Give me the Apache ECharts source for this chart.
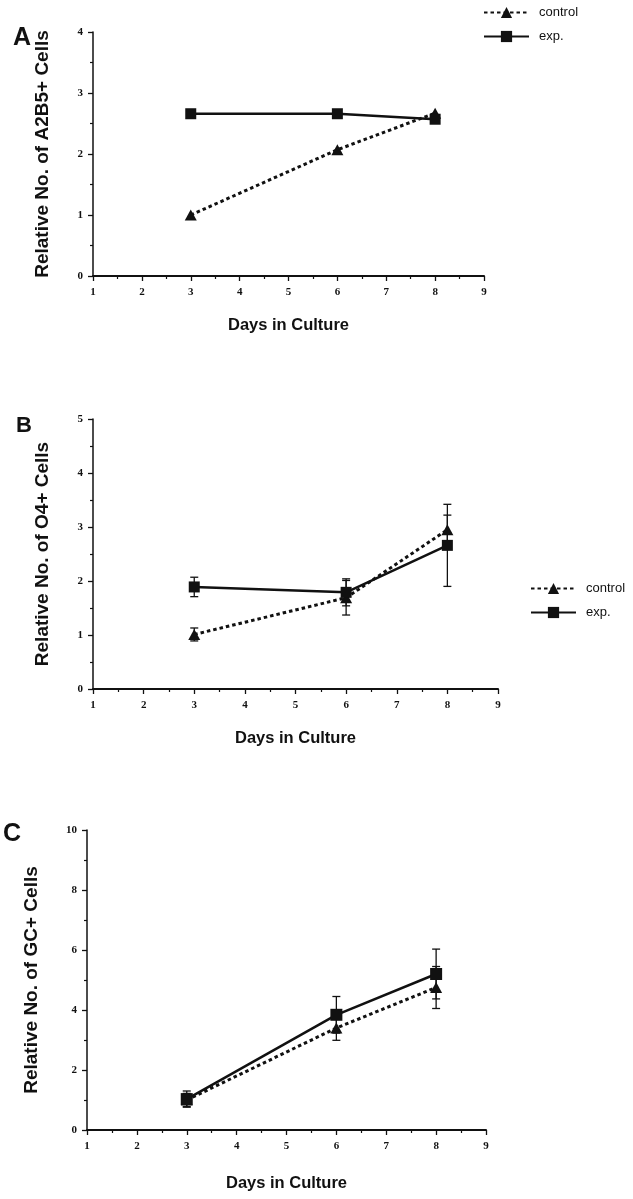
<!DOCTYPE html>
<html>
<head>
<meta charset="utf-8">
<script src="https://cdn.jsdelivr.net/npm/echarts@6/dist/echarts.min.js"></script>
<style>
html,body{margin:0;padding:0;background:#fff;}
#chart{width:633px;height:1199px;}
</style>
</head>
<body>
<div id="chart"></div>
<script>
// ---- data ----
const days = [3, 6, 8];
const seriesNames = ['control', 'exp.'];
const xAxisTitle = 'Days in Culture';
const yTitles = ['Relative No. of A2B5+ Cells', 'Relative No. of O4+ Cells', 'Relative No. of GC+ Cells'];
const panelLetters = ['A', 'B', 'C'];

const a2b5Control = [1.0, 2.07, 2.67];
const a2b5Exp = [2.66, 2.66, 2.57];

const o4Control = [1.01, 1.69, 2.95];
const o4ControlErr = [0.12, 0.32, 0.27];
const o4Exp = [1.89, 1.79, 2.66];
const o4ExpErr = [0.18, 0.25, 0.76];

const gcControl = [1.0, 3.4, 4.75];
const gcControlErr = [0.22, 0.41, 0.7];
const gcExp = [1.03, 3.84, 5.2];
const gcExpErr = [0.27, 0.61, 0.83];

const yMax = [4, 5, 10];
const yInterval = [1, 1, 2];

// ---- helpers ----
const INK = '#111';
const pts = (ys) => days.map((d, i) => [d, ys[i]]);
const errPts = (ys, es) => days.map((d, i) => [d, ys[i], es[i]]);

function renderErr(params, api) {
  const x = api.value(0), y = api.value(1), e = api.value(2);
  const top = api.coord([x, y + e]);
  const bot = api.coord([x, y - e]);
  const w = 4;
  const st = { stroke: INK, lineWidth: 1.3 };
  return {
    type: 'group',
    children: [
      { type: 'line', shape: { x1: top[0], y1: top[1], x2: bot[0], y2: bot[1] }, style: st },
      { type: 'line', shape: { x1: top[0] - w, y1: top[1], x2: top[0] + w, y2: top[1] }, style: st },
      { type: 'line', shape: { x1: bot[0] - w, y1: bot[1], x2: bot[0] + w, y2: bot[1] }, style: st }
    ]
  };
}

const grids = [
  { left: 93, top: 32, width: 391, height: 244 },
  { left: 93, top: 419, width: 405, height: 270 },
  { left: 87, top: 830, width: 399, height: 300 }
];
const xNameGaps = [41, 41, 45];
const yNameGaps = [41, 41, 46];

const xAxes = grids.map((g, i) => ({
  gridIndex: i, type: 'value', min: 1, max: 9, interval: 1,
  axisLine: { show: true, onZero: false, lineStyle: { color: INK, width: 2 } },
  axisTick: { show: true, inside: false, length: 5, lineStyle: { color: INK, width: 1.3 } },
  minorTick: { show: true, splitNumber: 2, length: 3, lineStyle: { color: INK, width: 1.2 } },
  splitLine: { show: false },
  axisLabel: { color: INK, fontFamily: 'Liberation Serif', fontWeight: 'bold', fontSize: 11, margin: 11 },
  name: xAxisTitle, nameLocation: 'middle', nameGap: xNameGaps[i],
  nameTextStyle: { color: INK, fontFamily: 'Liberation Sans', fontWeight: 'bold', fontSize: 16.5 }
}));

const yAxes = grids.map((g, i) => ({
  gridIndex: i, type: 'value', min: 0, max: yMax[i], interval: yInterval[i],
  axisLine: { show: true, onZero: false, lineStyle: { color: INK, width: 1.5 } },
  axisTick: { show: true, inside: false, length: 5, lineStyle: { color: INK, width: 1.3 } },
  minorTick: { show: true, splitNumber: 2, length: 3, lineStyle: { color: INK, width: 1.2 } },
  splitLine: { show: false },
  axisLabel: { color: INK, fontFamily: 'Liberation Serif', fontWeight: 'bold', fontSize: 11, margin: 10 },
  name: yTitles[i], nameLocation: 'middle', nameRotate: 90, nameGap: yNameGaps[i],
  nameTextStyle: { color: INK, fontFamily: 'Liberation Sans', fontWeight: 'bold', fontSize: 19 }
}));

function controlSeries(i, ys) {
  return {
    name: seriesNames[0], type: 'line', xAxisIndex: i, yAxisIndex: i,
    data: pts(ys), symbol: 'triangle', symbolSize: [12, 11],
    lineStyle: { color: INK, width: 3, type: [3.5, 3] },
    itemStyle: { color: INK }, z: 3
  };
}
function expSeries(i, ys) {
  return {
    name: seriesNames[1], type: 'line', xAxisIndex: i, yAxisIndex: i,
    data: pts(ys), symbol: 'rect', symbolSize: i === 2 ? 12 : 11,
    lineStyle: { color: INK, width: 2.5, type: 'solid' },
    itemStyle: { color: INK }, z: 4
  };
}
function errSeries(i, ys, es) {
  return {
    type: 'custom', xAxisIndex: i, yAxisIndex: i, renderItem: renderErr,
    data: errPts(ys, es), encode: { x: 0, y: 1 }, z: 2, silent: true
  };
}

const legendText = { color: INK, fontFamily: 'Liberation Sans', fontSize: 13, padding: [0, 0, 0, 5] };

const option = {
  backgroundColor: '#fff',
  animation: false,
  grid: grids,
  xAxis: xAxes,
  yAxis: yAxes,
  legend: [
    { data: seriesNames, orient: 'vertical', left: 478, top: 1, itemWidth: 45, itemHeight: 14, itemGap: 11,
      textStyle: legendText, selectedMode: false },
    { data: seriesNames, orient: 'vertical', left: 525, top: 577, itemWidth: 45, itemHeight: 14, itemGap: 11,
      textStyle: legendText, selectedMode: false }
  ],
  graphic: [
    { type: 'text', left: 13, top: 26, style: { text: panelLetters[0], fill: INK, font: 'bold 25px "Liberation Sans"' } },
    { type: 'text', left: 16, top: 415, style: { text: panelLetters[1], fill: INK, font: 'bold 22px "Liberation Sans"' } },
    { type: 'text', left: 3, top: 822, style: { text: panelLetters[2], fill: INK, font: 'bold 25px "Liberation Sans"' } }
  ],
  series: [
    controlSeries(0, a2b5Control),
    expSeries(0, a2b5Exp),
    errSeries(1, o4Control, o4ControlErr),
    errSeries(1, o4Exp, o4ExpErr),
    controlSeries(1, o4Control),
    expSeries(1, o4Exp),
    errSeries(2, gcControl, gcControlErr),
    errSeries(2, gcExp, gcExpErr),
    controlSeries(2, gcControl),
    expSeries(2, gcExp)
  ]
};

const chart = echarts.init(document.getElementById('chart'), null, { renderer: 'canvas' });
chart.setOption(option);
</script>
</body>
</html>
